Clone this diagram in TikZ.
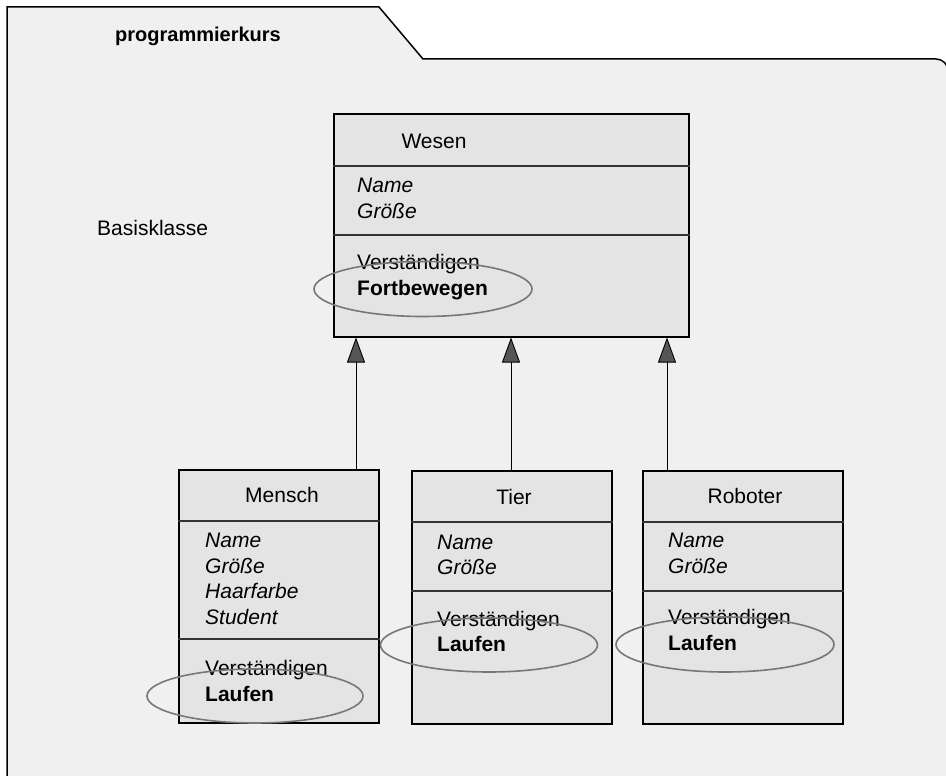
\documentclass[tikz,border=0pt]{standalone}
\usepackage{fontspec}
\setmainfont{Liberation Sans}
\usepackage{tikz}
\usetikzlibrary{arrows.meta,shapes.geometric}
\definecolor{rahmengrau}{HTML}{F0F0F0}
\definecolor{boxgrau}{HTML}{E4E4E4}
\definecolor{ringgrau}{HTML}{777777}
\definecolor{pfeilgrau}{HTML}{555555}
\definecolor{trenngrau}{HTML}{333333}
\newcommand{\umlschrift}{\fontsize{21pt}{25pt}\selectfont}

\begin{document}
\begin{tikzpicture}[x=1pt, y=-1pt,
    rahmen/.style={draw, line width=1.5pt, fill=rahmengrau},
    klasse/.style={rectangle, draw, line width=2pt, fill=boxgrau, inner sep=0pt, minimum width=200pt, minimum height=253pt},
    trenn/.style={draw=trenngrau, line width=1.5pt},
    titel/.style={anchor=base, inner sep=0pt, font=\umlschrift},
    attr/.style={anchor=base west, inner sep=0pt, font=\umlschrift\itshape},
    meth/.style={anchor=base west, inner sep=0pt, font=\umlschrift},
    ring/.style={ellipse, draw=ringgrau, line width=1.6pt, inner sep=0pt, minimum width=217pt, minimum height=54pt},
    erbt/.style={-{Triangle[width=18pt, length=25pt, fill=pfeilgrau]}, line width=0.9pt}
]
    % Hintergrund und Paketrahmen
    \path[use as bounding box, fill=white] (0,0) rectangle (946,776);
    \path[rahmen] (7,800) -- (7,7) -- (379,7) -- (423,59) -- (936,59) arc[start angle=-90, end angle=0, radius=12] -- (948,800);
    \node[anchor=base west, inner sep=0pt, font=\fontsize{20pt}{24pt}\selectfont\bfseries] (paket) at (115,42) {programmierkurs};
    \node[anchor=base west, inner sep=0pt, font=\umlschrift] (basis) at (97,235) {Basisklasse};

    % Klassen
    \node[klasse, minimum width=355pt, minimum height=222pt] (wesen) at (511,225.5) {};
    \node[klasse] (mensch) at (278.5,596.5) {};
    \node[klasse] (tier) at (511.5,597) {};
    \node[klasse] (roboter) at (742.5,597) {};

    % Trennlinien
    \draw[trenn] (wesen.west |- 0,166) -- (wesen.east |- 0,166);
    \draw[trenn] (wesen.west |- 0,235) -- (wesen.east |- 0,235);
    \draw[trenn] (mensch.west |- 0,521) -- (mensch.east |- 0,521);
    \draw[trenn] (mensch.west |- 0,639) -- (mensch.east |- 0,639);
    \draw[trenn] (tier.west |- 0,522) -- (tier.east |- 0,522);
    \draw[trenn] (tier.west |- 0,591) -- (tier.east |- 0,591);
    \draw[trenn] (roboter.west |- 0,522) -- (roboter.east |- 0,522);
    \draw[trenn] (roboter.west |- 0,591) -- (roboter.east |- 0,591);

    % Wesen
    \node[titel] (wtitel) at (434,148) {Wesen};
    \node[attr] (wname) at (357,192) {Name};
    \node[attr] (wgroesse) at (357,218) {Größe};
    \node[meth] (wverst) at (357,269) {Verständigen};
    \node[meth, font=\umlschrift\bfseries] (wfort) at (357,295) {Fortbewegen};

    % Mensch
    \node[titel] (mtitel) at (282,502) {Mensch};
    \node[attr] (mname) at (205,547) {Name};
    \node[attr] (mgroesse) at (205,573) {Größe};
    \node[attr] (mhaar) at (205,598) {Haarfarbe};
    \node[attr] (mstudent) at (205,624) {Student};
    \node[meth] (mverst) at (205,675) {Verständigen};
    \node[meth, font=\umlschrift\bfseries] (mlauf) at (205,701) {Laufen};

    % Tier
    \node[titel] (ttitel) at (514,504) {Tier};
    \node[attr] (tname) at (437,549) {Name};
    \node[attr] (tgroesse) at (437,574) {Größe};
    \node[meth] (tverst) at (437,626) {Verständigen};
    \node[meth, font=\umlschrift\bfseries] (tlauf) at (437,651) {Laufen};

    % Roboter
    \node[titel] (rtitel) at (745,503) {Roboter};
    \node[attr] (rname) at (668,547) {Name};
    \node[attr] (rgroesse) at (668,573) {Größe};
    \node[meth] (rverst) at (668,624) {Verständigen};
    \node[meth, font=\umlschrift\bfseries] (rlauf) at (668,650) {Laufen};

    % Markierungen
    \node[ring, minimum width=218pt, minimum height=55pt] (wring) at (423,289) {};
    \node[ring, minimum width=216pt] (mring) at (255,696) {};
    \node[ring] (tring) at (489,645) {};
    \node[ring, minimum width=218pt, minimum height=55pt] (rring) at (725,644.5) {};

    % Vererbung
    \draw[erbt] (356,0 |- mensch.north) -- (356,0 |- wesen.south);
    \draw[erbt] (511,0 |- tier.north) -- (511,0 |- wesen.south);
    \draw[erbt] (667,0 |- roboter.north) -- (667,0 |- wesen.south);
\end{tikzpicture}
\end{document}
